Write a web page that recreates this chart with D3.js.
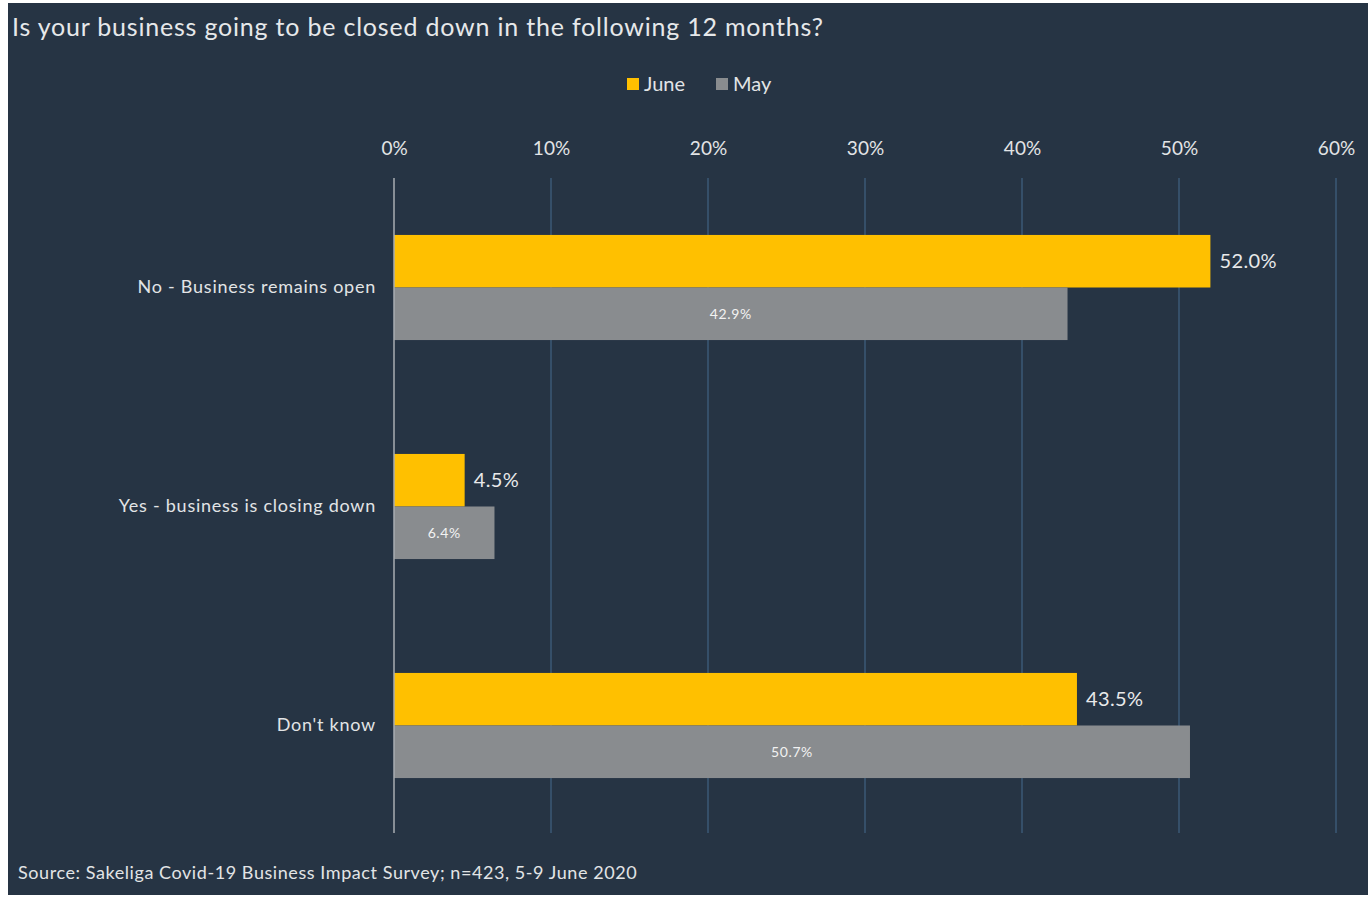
<!DOCTYPE html>
<html>
<head>
<meta charset="utf-8">
<script src="https://cdn.jsdelivr.net/npm/d3@7"></script>
<style>
  html, body { margin: 0; padding: 0; background: #ffffff; }
  svg { display: block; }
  text { font-family: Lato, "Open Sans", sans-serif; }
</style>
</head>
<body>
<svg id="chart" width="1368" height="897"></svg>
<script>
const categories = ["No - Business remains open", "Yes - business is closing down", "Don't know"];
const seriesNames = ["June", "May"];
const juneValues = [52.0, 4.5, 43.5];
const mayValues = [42.9, 6.4, 50.7];
const tickValues = [0, 10, 20, 30, 40, 50, 60];
const colors = { June: "#ffc000", May: "#898c8f" };

const svg = d3.select("#chart");
const W = 1368, H = 897;

// panel background
svg.append("rect").attr("x", 8).attr("y", 3).attr("width", W - 8).attr("height", H - 5)
  .attr("fill", "#263444");

const x = d3.scaleLinear().domain([0, 60]).range([394, 1336]);
const y = d3.scaleBand().domain(categories).range([178, 835]).paddingInner(0.52).paddingOuter(0.26);
const ySub = d3.scaleBand().domain(seriesNames).range([0, y.bandwidth()]);

// gridlines
svg.append("g").selectAll("line").data(tickValues.slice(1)).join("line")
  .attr("x1", d => x(d)).attr("x2", d => x(d))
  .attr("y1", 178).attr("y2", 833)
  .attr("stroke", "#3b5876").attr("stroke-width", 1.5);

// top axis tick labels
const axis = d3.axisTop(x).tickValues(tickValues).tickFormat(d => d + "%").tickSize(0);
const ax = svg.append("g").attr("transform", "translate(0,158)").call(axis);
ax.select(".domain").remove();
ax.selectAll("text").attr("fill", "#e2e4e6").attr("font-size", 19);

// bars
const rows = categories.map((c, i) => ({ cat: c, June: juneValues[i], May: mayValues[i] }));
const g = svg.append("g");
rows.forEach(r => {
  seriesNames.forEach(s => {
    g.append("rect")
      .attr("x", x(0))
      .attr("y", y(r.cat) + ySub(s))
      .attr("width", x(r[s]) - x(0))
      .attr("height", ySub.bandwidth())
      .attr("fill", colors[s]);
  });
  // June value label outside bar end
  g.append("text")
    .attr("x", x(r.June) + 9)
    .attr("y", y(r.cat) + ySub("June") + ySub.bandwidth() / 2)
    .attr("dy", "0.35em")
    .attr("fill", "#e8e9ea").attr("font-size", 20).attr("letter-spacing", 0.4)
    .text(r.June.toFixed(1) + "%");
  // May value label centred inside bar
  g.append("text")
    .attr("x", (x(0) + x(r.May)) / 2)
    .attr("y", y(r.cat) + ySub("May") + ySub.bandwidth() / 2)
    .attr("dy", "0.35em")
    .attr("text-anchor", "middle")
    .attr("fill", "#f2f2f2").attr("font-size", 14).attr("letter-spacing", 0.6)
    .text(r.May.toFixed(1) + "%");
});

// zero axis line
svg.append("line").attr("x1", x(0)).attr("x2", x(0)).attr("y1", 178).attr("y2", 833)
  .attr("stroke", "#a9adb2").attr("stroke-width", 1.5);

// category labels
const yAxis = d3.axisLeft(y).tickSize(0).tickPadding(0);
const ay = svg.append("g").attr("transform", "translate(376,0)").call(yAxis);
ay.select(".domain").remove();
ay.selectAll("text").attr("fill", "#e2e4e6").attr("font-size", 18).attr("letter-spacing", 0.75);

// title
svg.append("text").attr("x", 12).attr("y", 36).attr("fill", "#e6e8ea").attr("font-size", 25)
  .attr("letter-spacing", 0.8)
  .text("Is your business going to be closed down in the following 12 months?");

// legend
const legend = svg.append("g");
[["June", 627], ["May", 716]].forEach(([s, lx]) => {
  legend.append("rect").attr("x", lx).attr("y", 78).attr("width", 12).attr("height", 12).attr("fill", colors[s]);
  legend.append("text").attr("x", lx + 17).attr("y", 91).attr("fill", "#e2e4e6").attr("font-size", 20).text(s);
});

// source note
svg.append("text").attr("x", 18).attr("y", 879).attr("fill", "#e2e4e6").attr("font-size", 18)
  .attr("letter-spacing", 0.57)
  .text("Source: Sakeliga Covid-19 Business Impact Survey; n=423, 5-9 June 2020");
</script>
</body>
</html>
